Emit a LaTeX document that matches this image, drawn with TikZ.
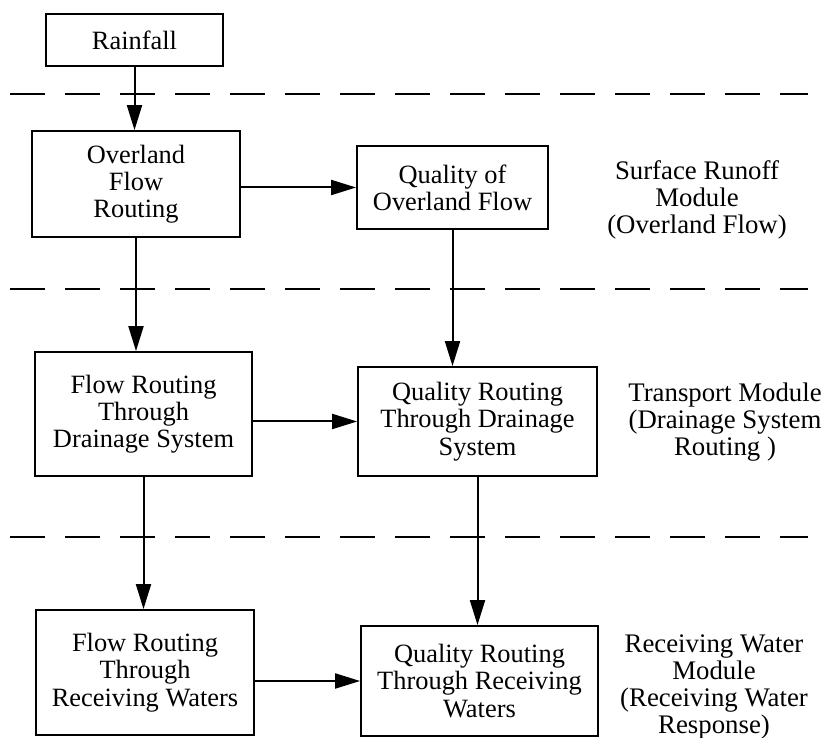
\documentclass[tikz,border=0pt]{standalone}
\usepackage{fontspec}
\setmainfont{Liberation Serif}
\usetikzlibrary{arrows.meta}

\begin{document}
\begin{tikzpicture}[
		box/.style={draw,line width=0.9pt,align=center,inner sep=0pt,font=\fontsize{13.2}{13.6}\selectfont},
		modtext/.style={align=center,font=\fontsize{13.4}{13.4}\selectfont},
		arr/.style={line width=1pt,-{Triangle[length=12.5pt,width=7.5pt]}},
		sep/.style={line width=0.9pt,dash pattern=on 17.5pt off 10pt}
	]
				\useasboundingbox (0,0) rectangle (412.5pt,369pt);
				% flow column
				\node[box,minimum width=88.5pt,minimum height=26pt] (R) at (67.25pt,349pt) {Rainfall};
				\node[box,minimum width=104pt,minimum height=53pt] (OF) at (68pt,277pt) {Overland\\Flow\\Routing};
				\node[box,minimum width=108.5pt,minimum height=62pt] (FD) at (71.75pt,162pt) {Flow Routing\\Through\\Drainage System};
				\node[box,minimum width=109pt,minimum height=62.5pt] (FR) at (72.5pt,32.75pt) {Flow Routing\\Through\\Receiving Waters};
				% quality column
				\node[box,minimum width=95.5pt,minimum height=41.5pt] (QOF) at (226.25pt,275.25pt) {Quality of\\Overland Flow};
				\node[box,minimum width=119.5pt,minimum height=54.5pt] (QD) at (238.75pt,158.25pt) {Quality Routing\\Through Drainage\\System};
				\node[box,minimum width=118.5pt,minimum height=55pt] (QR) at (239.75pt,28.5pt) {Quality Routing\\Through Receiving\\Waters};
				% module names
				\node[modtext] (M1) at (348.5pt,269pt) {Surface Runoff\\Module\\(Overland Flow)};
				\node[modtext] (M2) at (362.5pt,158pt) {Transport Module\\(Drainage System\\Routing )};
				\node[modtext] (M3) at (357pt,25.5pt) {Receiving Water\\Module\\(Receiving Water\\Response)};
				% module borders
				\foreach \y in {322pt,224.5pt,100.5pt} \draw[sep] (5pt,\y)--(404pt,\y);
				\draw[arr] (R.south)--(R.south |- OF.north);
				\draw[arr] (OF.south)--(OF.south |- FD.north);
				\draw[arr] (FD.south)--(FD.south |- FR.north);
				\draw[arr] (QOF.south)--(QOF.south |- QD.north);
				\draw[arr] (QD.south)--(QD.south |- QR.north);
				\draw[arr] (OF.east |- QOF.west)--(QOF.west);
				\draw[arr] (FD.east |- QD.west)--(QD.west);
				\draw[arr] (FR.east |- QR.west)--(QR.west);
			\end{tikzpicture}
\end{document}
